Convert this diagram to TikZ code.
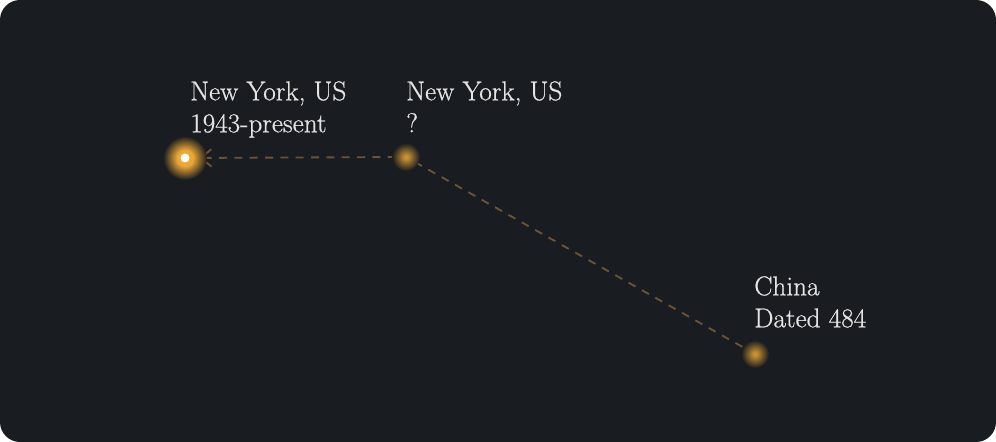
\documentclass[tikz,border=0pt]{standalone}
\usepackage{fontspec}
\newfontfamily\labelfont{Latin Modern Roman}[FakeBold=0.7]
\usetikzlibrary{arrows.meta,positioning}

\definecolor{bgdark}{HTML}{191C20}
\definecolor{glowgold}{HTML}{EBA836}
\definecolor{trail}{HTML}{6B5431}
\definecolor{labeltext}{HTML}{E4E4E4}

\pgfdeclareradialshading{glowbig}{\pgfpoint{0cm}{0cm}}{color(0bp)=(glowgold); color(9bp)=(glowgold); color(25bp)=(bgdark); color(50bp)=(bgdark)}
\pgfdeclareradialshading{glowsmall}{\pgfpoint{0cm}{0cm}}{color(0bp)=(glowgold!85!bgdark); color(4bp)=(glowgold!80!bgdark); color(25bp)=(bgdark); color(50bp)=(bgdark)}

\begin{document}
\begin{tikzpicture}[x=0.75pt, y=0.75pt,
  place/.style={circle, inner sep=0pt, minimum size=3pt},
  lbl/.style={anchor=north west, inner sep=0pt, align=left, text=labeltext,
    font=\labelfont\fontsize{20.4}{24}\selectfont},
  trailline/.style={trail, line width=1.4pt, dash pattern=on 6pt off 5.5pt}]

  % background card
  \fill[bgdark, rounded corners=15pt] (0,0) rectangle (996,442);

  % places on the route
  \node[place] (ny)    at (185,284) {};
  \node[place] (nyq)   at (406,285) {};
  \node[place] (china) at (755,88) {};

  % route
  \draw[trailline, -{Straight Barb[length=8pt, width=13pt]}, shorten >=9pt, shorten <=6pt] (nyq) -- (ny);
  \draw[trailline, shorten <=6pt, shorten >=6pt] (nyq) -- (china);

  % glows
  \shade[shading=glowbig] (ny) circle (22);
  \shade[shading=glowsmall] (nyq) circle (14);
  \shade[shading=glowsmall] (china) circle (14);
  \fill[white] (ny) circle (4.5);

  % labels
  \node[lbl] (nylabel)    at (190,361) {New York, US\\1943-present};
  \node[lbl] (nyqlabel)   at (406,361) {New York, US\\?};
  \node[lbl] (chinalabel) at (754,166) {China\\Dated 484};

\end{tikzpicture}
\end{document}
